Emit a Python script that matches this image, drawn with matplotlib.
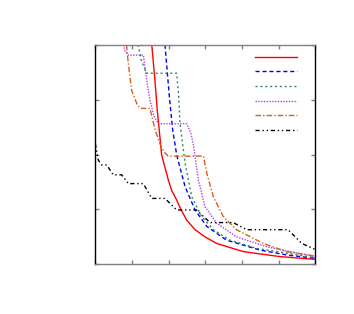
import matplotlib
matplotlib.use('Agg')
from matplotlib import pyplot as plt

# curves (x in 0..6, y in 0..4)
red_x = [1.54, 1.62, 1.69, 1.81, 1.99, 2.08, 2.22, 2.34, 2.49, 2.72, 2.99, 3.31, 4.04, 5.04, 6.0]
red_y = [4.0, 3.4, 2.81, 1.99, 1.54, 1.35, 1.17, 0.99, 0.81, 0.63, 0.50, 0.38, 0.23, 0.14, 0.09]

blue_x = [1.90, 2.02, 2.11, 2.22, 2.45, 2.72, 3.04, 3.58, 4.49, 5.22, 6.0]
blue_y = [4.0, 3.05, 2.45, 1.99, 1.41, 0.99, 0.69, 0.44, 0.26, 0.17, 0.11]

green_x = [1.17, 1.26, 1.40, 2.22, 2.27, 2.31, 2.45, 2.63, 2.90, 3.22, 3.67, 4.40, 6.0]
green_y = [4.0, 3.7, 3.48, 3.48, 3.1, 2.57, 1.84, 1.23, 0.87, 0.63, 0.44, 0.29, 0.12]

purple_x = [0.76, 0.82, 0.90, 1.31, 1.40, 1.49, 1.60, 1.72, 2.49, 2.60, 2.67, 2.81, 2.99, 3.31, 3.85, 4.67, 6.0]
purple_y = [4.0, 3.87, 3.81, 3.81, 3.36, 2.99, 2.70, 2.56, 2.56, 2.40, 2.20, 1.54, 1.05, 0.75, 0.50, 0.32, 0.14]

orange_x = [0.85, 0.90, 0.99, 1.13, 1.22, 1.49, 1.63, 1.76, 1.87, 1.99, 2.95, 3.04, 3.22, 3.49, 3.85, 4.58, 5.22, 6.0]
orange_y = [4.0, 3.66, 3.17, 2.93, 2.84, 2.84, 2.45, 2.20, 2.05, 1.97, 1.97, 1.66, 1.23, 0.87, 0.63, 0.38, 0.23, 0.15]

black_x = [0.0, 0.08, 0.17, 0.31, 0.49, 0.72, 0.90, 1.31, 1.54, 1.90, 2.22, 2.76, 3.13, 3.76, 4.13, 5.26, 5.63, 6.0]
black_y = [2.2, 1.9, 1.81, 1.81, 1.63, 1.63, 1.47, 1.47, 1.20, 1.20, 0.99, 0.99, 0.76, 0.76, 0.63, 0.63, 0.38, 0.27]

fig = plt.figure(figsize=(3.54, 3.14), dpi=100)
ax = fig.add_axes([95.3 / 354, (314 - 264.3) / 314, 220 / 354, 219.6 / 314])

lines = []
lines += ax.plot(red_x, red_y, color='#ff0000', lw=1.0, ls='-')
lines += ax.plot(blue_x, blue_y, color='#0000ff', lw=1.0, ls=(0, (3, 2)))
lines += ax.plot(green_x, green_y, color='#2e8b57', lw=1.0, ls=(0, (1.5, 2)))
lines += ax.plot(purple_x, purple_y, color='#b040f0', lw=1.0, ls=(0, (1, 1)))
lines += ax.plot(orange_x, orange_y, color='#d2601e', lw=1.0, ls=(0, (4, 1.5, 1, 1.5)))
lines += ax.plot(black_x, black_y, color='black', lw=1.0, ls=(0, (3, 2, 1, 2, 1, 2)))

ax.set_xlim(0, 6)
ax.set_ylim(0, 4)
ax.set_xticks([0, 1, 2, 3, 4, 5, 6])
ax.set_yticks([0, 1, 2, 3, 4])
ax.tick_params(direction='in', length=3, width=1, color='#808080',
               top=True, right=True, labelbottom=False, labelleft=False)
ax.spines['left'].set_color('black')
ax.spines['right'].set_color('black')
ax.spines['top'].set_color('#808080')
ax.spines['bottom'].set_color('#808080')
for s in ax.spines.values():
    s.set_linewidth(1.0)

leg = ax.legend(lines, [' '] * 6, loc='upper right', frameon=False,
                bbox_to_anchor=(0.982, 1.005),
                handlelength=3.8, handletextpad=0.2, labelspacing=0.42,
                borderaxespad=0.4, fontsize=8)

plt.savefig('out.png', dpi=100)
